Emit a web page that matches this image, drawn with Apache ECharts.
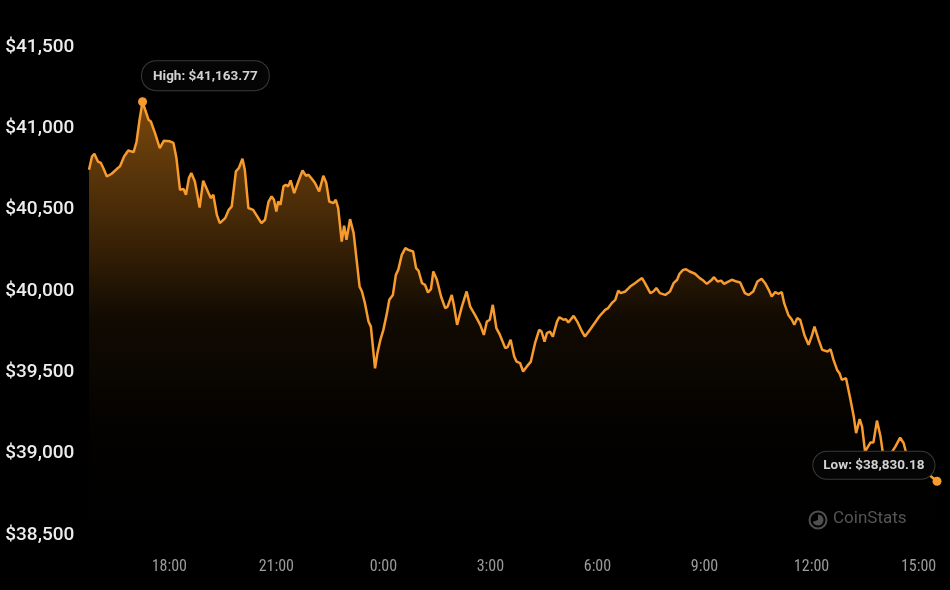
<!DOCTYPE html>
<html>
<head>
<meta charset="utf-8">
<script src="https://cdn.jsdelivr.net/npm/echarts@6/dist/echarts.min.js"></script>
<style>
  html, body { margin: 0; padding: 0; background: #000; }
  #chart { width: 950px; height: 590px; }
</style>
</head>
<body>
<div id="chart"></div>
<script>
// time in minutes from midnight of day 1 (values past 1440 are next day)
const times = [945,950,954,960,965,969,975,983,992,997,1004,1011,1020,1025,1030,1035,1040,1045,1049,1056,1064,1071,1081,1087,1092,1098,1104,1108,1113,1117,1123,1131,1137,1146,1150,1154,1160,1165,1174,1180,1185,1192,1197,1203,1207,1213,1221,1224,1235,1241,1247,1252,1256,1260,1263,1267,1272,1276,1280,1284,1290,1297,1304,1310,1314,1320,1325,1332,1335,1339,1344,1349,1356,1360,1364,1370,1374,1378,1384,1390,1395,1400,1404,1409,1415,1419,1426,1430,1435,1440,1446,1450,1456,1461,1465,1471,1477,1482,1490,1495,1499,1505,1510,1515,1520,1524,1530,1537,1544,1548,1555,1559,1564,1572,1580,1586,1594,1603,1609,1614,1619,1624,1630,1636,1645,1649,1654,1660,1664,1670,1675,1681,1688,1695,1702,1706,1711,1715,1720,1725,1732,1736,1743,1747,1751,1760,1766,1774,1779,1788,1796,1803,1813,1818,1824,1830,1835,1839,1847,1855,1863,1869,1875,1880,1889,1894,1899,1905,1914,1922,1928,1934,1938,1944,1949,1955,1964,1972,1978,1984,1991,1996,2002,2008,2013,2020,2026,2034,2040,2048,2054,2062,2069,2076,2082,2088,2093,2099,2104,2110,2114,2121,2127,2131,2136,2141,2148,2155,2161,2165,2172,2178,2181,2187,2192,2197,2203,2207,2211,2218,2225,2231,2235,2241,2245,2250,2259,2264,2270,2276,2280,2286,2292,2301,2309,2315,2319,2329,2343,2356,2371];
const prices = [40745,40827,40844,40796,40787,40756,40704,40721,40751,40766,40827,40864,40854,40919,41053,41163.77,41108,41053,41042,40971,40879,40924,40920,40910,40817,40622,40627,40592,40694,40725,40673,40513,40678,40602,40571,40592,40468,40417,40448,40499,40520,40735,40756,40813,40745,40510,40499,40499,40417,40438,40550,40581,40561,40489,40550,40530,40643,40653,40643,40680,40602,40673,40741,40708,40715,40688,40664,40612,40622,40708,40664,40550,40540,40561,40510,40304,40401,40315,40442,40356,40192,40027,39997,39925,39812,39781,39525,39618,39700,39761,39864,39946,39976,40099,40130,40222,40264,40253,40243,40141,40126,40048,40038,39991,40011,40120,40069,39966,39895,39904,39976,39904,39792,39904,39997,39904,39853,39792,39730,39812,39823,39915,39772,39730,39649,39655,39700,39597,39566,39556,39505,39535,39566,39679,39761,39751,39689,39741,39751,39720,39812,39839,39823,39827,39806,39847,39812,39751,39720,39765,39806,39843,39884,39895,39925,39946,40003,39987,39997,40027,40048,40064,40079,40048,39987,39997,40018,39987,39976,39997,40048,40069,40106,40130,40134,40120,40106,40079,40064,40044,40064,40085,40058,40064,40044,40058,40069,40058,40052,39987,39976,39997,40058,40075,40048,40007,39966,39993,39983,39993,39925,39853,39823,39792,39833,39823,39730,39669,39730,39781,39700,39638,39649,39628,39642,39577,39515,39495,39454,39464,39341,39228,39126,39212,39166,39013,39068,39068,39203,39105,39003,38974,38992,39043,39099,39064,39006,38949,38912,38875,38830.18];
const xTickValues = [1080,1260,1440,1620,1800,1980,2160,2340];
const xTickLabels = ['18:00','21:00','0:00','3:00','6:00','9:00','12:00','15:00'];
const highPoint = [1035, 41163.77];
const lowPoint = [2371, 38830.18];

const seriesData = times.map((t, i) => [t, prices[i]]);
const fmtPrice = v => '$' + v.toLocaleString('en-US', {minimumFractionDigits: 2, maximumFractionDigits: 2});
const LINE = '#f89b2e';

const chart = echarts.init(document.getElementById('chart'), null, {renderer: 'canvas'});
chart.setOption({
  backgroundColor: '#000000',
  animation: false,
  grid: { left: 62.25, right: 13, top: 47, bottom: 55 },
  xAxis: {
    type: 'value', min: 900, max: 2371, interval: 180,
    axisLine: { show: false }, axisTick: { show: false }, splitLine: { show: false },
    axisLabel: {
      showMinLabel: false, showMaxLabel: false,
      color: '#9b9b9b', fontSize: 16, fontFamily: '"Liberation Sans Narrow", "Roboto Condensed", Roboto, sans-serif',
      margin: 24,
      formatter: v => { const i = xTickValues.indexOf(v); return i >= 0 ? xTickLabels[i] : ''; }
    }
  },
  yAxis: {
    type: 'value', min: 38500, max: 41500, interval: 500,
    axisLine: { show: false }, axisTick: { show: false }, splitLine: { show: false },
    axisLabel: {
      align: 'left', margin: 57,
      color: '#ececec', fontSize: 19, fontWeight: 500, fontFamily: 'Roboto, sans-serif',
      formatter: v => '$' + v.toLocaleString('en-US')
    }
  },
  series: [{
    type: 'line',
    data: seriesData,
    showSymbol: false,
    smooth: false,
    lineStyle: { color: LINE, width: 2.5 },
    itemStyle: { color: LINE },
    areaStyle: {
      color: new echarts.graphic.LinearGradient(0, 0, 0, 1, [
        { offset: 0, color: 'rgba(247,147,26,0.7)' },
        { offset: 0.25, color: 'rgba(247,147,26,0.42)' },
        { offset: 0.5, color: 'rgba(247,147,26,0.1)' },
        { offset: 0.75, color: 'rgba(247,147,26,0.02)' },
        { offset: 1, color: 'rgba(247,147,26,0)' }
      ])
    },
    markPoint: {
      symbol: 'circle', symbolSize: 9,
      itemStyle: { color: LINE },
      data: [
        {
          coord: highPoint, value: highPoint[1],
          label: {
            show: true, position: [4, -36], align: 'left', verticalAlign: 'top',
            formatter: 'High: ' + fmtPrice(highPoint[1]),
            color: '#d2d2d2', fontSize: 13.5, fontWeight: 'bold', fontFamily: 'Roboto, sans-serif',
            backgroundColor: '#050505', borderColor: '#3a3a3a', borderWidth: 1,
            borderRadius: 14, padding: [8, 11, 7, 11]
          }
        },
        {
          coord: lowPoint, value: lowPoint[1],
          label: {
            show: true, position: [2, 2], align: 'right', verticalAlign: 'bottom',
            formatter: 'Low: ' + fmtPrice(lowPoint[1]),
            color: '#d2d2d2', fontSize: 13.5, fontWeight: 'bold', fontFamily: 'Roboto, sans-serif',
            backgroundColor: '#050505', borderColor: '#3a3a3a', borderWidth: 1,
            borderRadius: 14, padding: [7, 10, 6, 10]
          }
        }
      ]
    }
  }],
  graphic: [
    { type: 'circle', shape: { cx: 818, cy: 520, r: 8.5 }, style: { fill: 'none', stroke: '#4f4f4f', lineWidth: 2 }, silent: true },
    { type: 'sector', shape: { cx: 818, cy: 520, r: 5.5, r0: 0, startAngle: -Math.PI / 2, endAngle: Math.PI * 0.9 }, style: { fill: '#4f4f4f' }, silent: true },
    { type: 'text', left: 833, top: 510, style: { text: 'CoinStats', fill: '#555555', font: '17px Roboto, sans-serif' }, silent: true }
  ]
});
</script>
</body>
</html>
